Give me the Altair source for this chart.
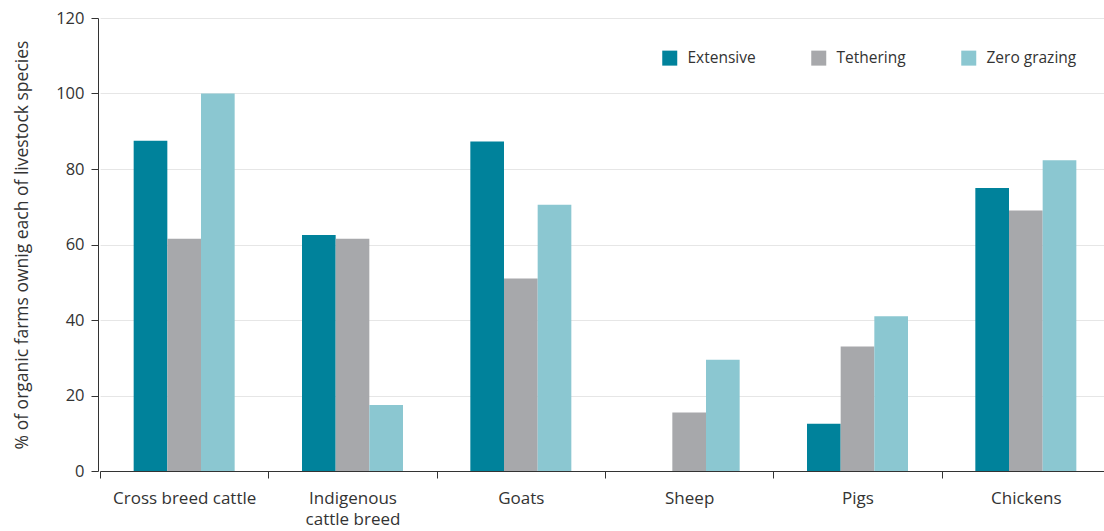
import altair as alt
import pandas as pd

categories = ["Cross breed cattle", "Indigenous\ncattle breed", "Goats", "Sheep", "Pigs", "Chickens"]
systems = ["Extensive", "Tethering", "Zero grazing"]
extensive = [87.5, 62.5, 87.3, 0, 12.5, 75.0]
tethering = [61.5, 61.5, 51.0, 15.5, 33.0, 69.0]
zero_grazing = [100.0, 17.5, 70.5, 29.5, 41.0, 82.3]
colors = ["#00829b", "#a7a8ab", "#8bc7d1"]

rows = []
for i, c in enumerate(categories):
    for s, vals in zip(systems, [extensive, tethering, zero_grazing]):
        rows.append({"category": c, "system": s, "value": vals[i]})
df = pd.DataFrame(rows)

FONT = "Open Sans"

chart = alt.Chart(df).mark_bar().encode(
    x=alt.X("category:N", sort=categories, title=None,
            scale=alt.Scale(paddingInner=0, paddingOuter=0, range=[2, 1012]),
            axis=alt.Axis(labelAngle=0, tickBand="extent", labelExpr="split(datum.label, '\\n')",
                          labelFontSize=17, labelColor="#333333", labelFont=FONT, labelPadding=12,
                          labelLineHeight=21,
                          domainColor="#333333", tickColor="#333333", tickSize=7, grid=False)),
    xOffset=alt.XOffset("system:N", sort=systems,
                        scale=alt.Scale(paddingInner=0, paddingOuter=1)),
    y=alt.Y("value:Q", title="% of organic farms ownig each of livestock species",
            scale=alt.Scale(domain=[0, 120]),
            axis=alt.Axis(values=[0, 20, 40, 60, 80, 100, 120], labelFontSize=16.5, labelColor="#333333",
                          labelFont=FONT, titleFont=FONT, titleFontSize=17.5, titleFontWeight="normal",
                          titleColor="#333333", titlePadding=24, labelPadding=7,
                          domainColor="#333333", tickColor="#333333", tickSize=7,
                          gridColor="#e6e6e6", gridWidth=1)),
    color=alt.Color("system:N", sort=systems, scale=alt.Scale(domain=systems, range=colors),
                    legend=alt.Legend(title=None, orient="none", legendX=564, legendY=32,
                                      direction="horizontal", symbolType="square", symbolSize=225,
                                      symbolStrokeWidth=0, labelFontSize=15.5, labelFont=FONT,
                                      labelColor="#333333", columnPadding=55, labelOffset=10)),
).properties(
    width=1006, height=453,
    autosize=alt.AutoSizeParams(type="none"),
    padding={"left": 98, "top": 18, "right": 0, "bottom": 60},
).configure_view(stroke=None)

chart.save("out.html", embed_options={"renderer": "svg", "actions": False})
